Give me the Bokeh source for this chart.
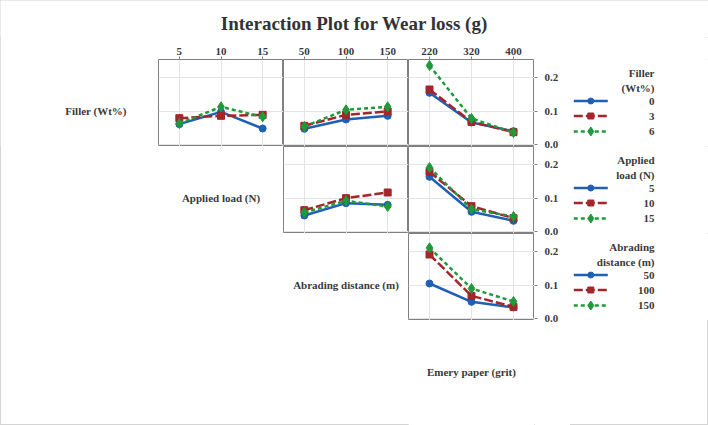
from bokeh.plotting import figure
from bokeh.layouts import column, row
from bokeh.models import (Range1d, FixedTicker, Grid, Spacer, ColumnDataSource,
                          LinearAxis)
from bokeh.embed import file_html
from bokeh.resources import INLINE
from bokeh.core.properties import value

# ---------------- data ----------------
TITLE = "Interaction Plot for Wear loss (g)"
load_levels = ["5", "10", "15"]
dist_levels = ["50", "100", "150"]
grit_levels = ["220", "320", "400"]
filler_levels = ["0", "3", "6"]

factor_labels = ["Filler (Wt%)", "Applied load (N)", "Abrading distance (m)", "Emery paper (grit)"]
legend_titles = [["Filler", "(Wt%)"], ["Applied", "load (N)"], ["Abrading", "distance (m)"]]

# mean wear loss (g): one list per series level, values at the x-factor levels
filler_by_load = [[0.061, 0.098, 0.048], [0.079, 0.086, 0.089], [0.063, 0.113, 0.083]]
filler_by_dist = [[0.047, 0.075, 0.086], [0.056, 0.089, 0.099], [0.054, 0.104, 0.113]]
filler_by_grit = [[0.155, 0.066, 0.040], [0.165, 0.068, 0.037], [0.237, 0.078, 0.036]]
load_by_dist = [[0.048, 0.085, 0.080], [0.064, 0.100, 0.117], [0.057, 0.092, 0.075]]
load_by_grit = [[0.164, 0.059, 0.032], [0.179, 0.076, 0.040], [0.192, 0.067, 0.045]]
dist_by_grit = [[0.105, 0.050, 0.033], [0.192, 0.068, 0.035], [0.212, 0.090, 0.051]]
y_ticks = [0.0, 0.1, 0.2]

# ---------------- style ----------------
COLORS = ["#1f5fb5", "#a3262b", "#1f9a3a"]
MARKERS = ["circle", "square", "diamond"]
DASHES = ["solid", "9 3", "4 3"]
SIZES = [7, 7, 10]
FONT = "Liberation Serif"
TXT = "#3a3a3a"
FRAME = "#808080"
GRID = "#e4e4e4"
YR = (-0.006, 0.255)
SPAN = YR[1] - YR[0]

C0_LEFT = 33
CW = [125, 125, 126]
AXW = 36          # right-axis strip (ticks + labels)
AX_FRAME = 3
LW = 708 - (C0_LEFT + CW[0]) - CW[0] - CW[1] - CW[2] - AXW
TITLE_H = 37
TOP = 22
FH = 87
BOT_H = 425 - TITLE_H - TOP - 3 * FH


def bare(width, height, xr, yr, left=0, right=0, top=0, bottom=0):
    p = figure(width=width, height=height, x_range=Range1d(*xr), y_range=Range1d(*yr),
               min_border_left=left, min_border_right=right,
               min_border_top=top, min_border_bottom=bottom,
               x_axis_location=None, y_axis_location=None,
               output_backend="svg", toolbar_location=None)
    p.grid.visible = False
    p.outline_line_color = None
    p.background_fill_color = "white"
    p.border_fill_color = "white"
    return p


def base(fw, left=0, top=0, bottom=0, outline=True):
    p = bare(left + fw, top + FH + bottom, (-0.5, 2.5), YR, left=left, top=top, bottom=bottom)
    if outline:
        p.outline_line_color = FRAME
        p.outline_line_width = 1
    return p


def style_axis(ax):
    ax.axis_line_color = None
    ax.major_tick_line_color = FRAME
    ax.major_tick_out = 3
    ax.major_tick_in = 0
    ax.minor_tick_out = 0
    ax.minor_tick_in = 0
    ax.major_label_text_font = FONT
    ax.major_label_text_font_size = "11px"
    ax.major_label_text_font_style = "bold"
    ax.major_label_text_color = TXT


def panel(ci, series, xlabels, top=False):
    p = base(CW[ci], top=TOP if top else 0)
    xs = list(range(len(xlabels)))
    p.add_layout(Grid(dimension=0, ticker=FixedTicker(ticks=xs),
                      grid_line_color=GRID), "center")
    p.add_layout(Grid(dimension=1, ticker=FixedTicker(ticks=y_ticks),
                      grid_line_color=GRID), "center")
    for k, vals in enumerate(series):
        src = ColumnDataSource(dict(x=xs, y=vals))
        p.line("x", "y", source=src, line_color=COLORS[k], line_width=2.5,
               line_dash=DASHES[k])
        p.scatter("x", "y", source=src, marker=MARKERS[k], size=SIZES[k],
                  fill_color=COLORS[k], line_color=COLORS[k])
    if top:
        ax = LinearAxis(ticker=FixedTicker(ticks=xs),
                        major_label_overrides={i: t for i, t in enumerate(xlabels)})
        style_axis(ax)
        ax.major_label_standoff = 2
        p.add_layout(ax, "above")
    return p


def diag(fw, label, left=0, top=0, bottom=0):
    p = base(fw, left=left, top=top, bottom=bottom, outline=False)
    p.text(x=[1], y=[0.1], text=[label], text_align="center", text_baseline="middle",
           text_font=value(FONT), text_font_style="bold", text_font_size="11px",
           text_color=TXT)
    return p


def legend_fig(titles, labels, top=0):
    p = bare(LW, top + FH, (0, LW), (FH, 0), top=top)
    right_x = 84
    for t, yy in zip(titles, [13, 28.5]):
        p.text(x=[right_x], y=[yy], text=[t], text_align="right", text_baseline="middle",
               text_font=value(FONT), text_font_style="bold", text_font_size="11px",
               text_color=TXT)
    for k, (lab, yy) in enumerate(zip(labels, [41.5, 56.5, 72])):
        p.line(x=[3.3, 37.3], y=[yy, yy], line_color=COLORS[k], line_width=2.5,
               line_dash=DASHES[k])
        p.scatter(x=[20.3], y=[yy], marker=MARKERS[k], size=SIZES[k] - 1,
                  fill_color=COLORS[k], line_color=COLORS[k])
        p.text(x=[right_x], y=[yy], text=[lab], text_align="right", text_baseline="middle",
               text_font=value(FONT), text_font_style="bold", text_font_size="11px",
               text_color=TXT)
    return p


# ---------------- title ----------------
tf = bare(708, TITLE_H, (0, 708), (TITLE_H, 0))
tf.text(x=[354], y=[23], text=[TITLE], text_align="center", text_baseline="middle",
        text_font=value(FONT), text_font_style="bold", text_font_size="19px",
        text_color="#333333")

# ---------------- right value axis shared by the three right-hand panels ----------------
axis_ticks = []
axis_labels = {}
for r in range(3):
    for t in y_ticks:
        v = (2 - r) * SPAN + (t - YR[0])
        axis_ticks.append(v)
        axis_labels[v] = "%.1f" % t
axf = bare(AXW, TOP + 3 * FH + BOT_H, (0, 1), (0, 3 * SPAN),
           right=AXW - AX_FRAME, top=TOP, bottom=BOT_H)
yax = LinearAxis(ticker=FixedTicker(ticks=axis_ticks), major_label_overrides=axis_labels)
style_axis(yax)
yax.major_tick_out = 0
yax.major_tick_in = AX_FRAME
yax.major_label_standoff = 7
axf.add_layout(yax, "right")

# ---------------- matrix ----------------
r1 = row(
    diag(CW[0], factor_labels[0], left=C0_LEFT, top=TOP),
    panel(0, filler_by_load, load_levels, top=True),
    panel(1, filler_by_dist, dist_levels, top=True),
    panel(2, filler_by_grit, grit_levels, top=True),
)
r2 = row(
    Spacer(width=C0_LEFT + CW[0], height=FH),
    diag(CW[0], factor_labels[1]),
    panel(1, load_by_dist, dist_levels),
    panel(2, load_by_grit, grit_levels),
)
r3 = row(
    Spacer(width=C0_LEFT + CW[0], height=FH),
    Spacer(width=CW[0], height=FH),
    diag(CW[1], factor_labels[2]),
    panel(2, dist_by_grit, grit_levels),
)
r4 = row(
    Spacer(width=C0_LEFT + CW[0] + CW[0] + CW[1], height=BOT_H),
    diag(CW[2], factor_labels[3], bottom=BOT_H - FH),
)
legends = column(
    legend_fig(legend_titles[0], filler_levels, top=TOP),
    legend_fig(legend_titles[1], load_levels),
    legend_fig(legend_titles[2], dist_levels),
    Spacer(width=LW, height=BOT_H),
)

page = column(tf, row(column(r1, r2, r3, r4), axf, legends),
              styles={"outline": "1px solid #d4d4d4", "outline-offset": "-1px",
                      "background-color": "white"})

open("out.html", "w").write(file_html(page, INLINE))
